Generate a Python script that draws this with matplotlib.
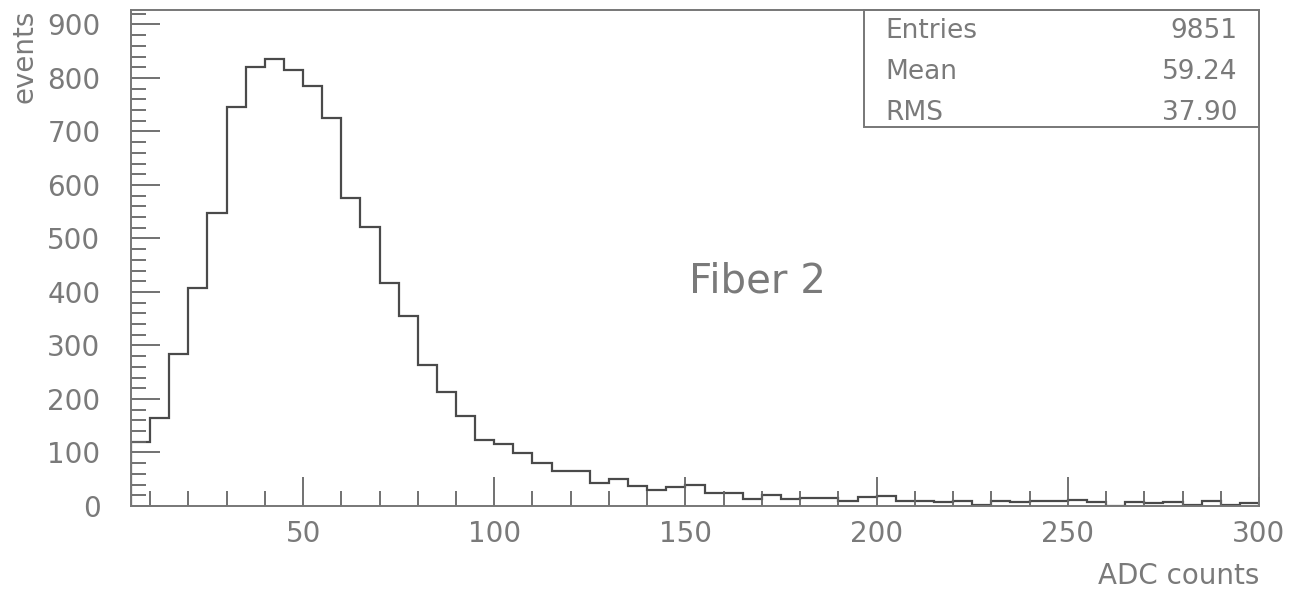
import numpy as np
import matplotlib
matplotlib.use("Agg")
import matplotlib.pyplot as plt
from matplotlib.ticker import MultipleLocator
from matplotlib.patches import Rectangle

# histogram contents, 5-count wide bins starting at 5
bin_start = 5
bin_width = 5
counts = [119, 165, 285, 408, 548, 746, 821, 835, 815, 785,
          726, 576, 521, 417, 355, 263, 213, 168, 124, 116,
          99, 80, 66, 66, 43, 50, 37, 30, 35, 39,
          25, 25, 14, 20, 14, 15, 15, 10, 16, 18,
          9, 9, 8, 9, 2, 9, 8, 9, 10, 11,
          7, 0, 7, 6, 7, 1, 10, 1, 5]

stat_names = ["Entries", "Mean", "RMS"]
stat_values = ["9851", "59.24", "37.90"]
title = "Fiber 2"

line_col = "#4a4a4a"
text_col = "#7a7a7a"

plt.rcParams["font.family"] = ["DejaVu Sans"]

fig = plt.figure(figsize=(13.01, 5.90), dpi=100)
ax = fig.add_axes([131 / 1301, 1 - 506 / 590, 1128 / 1301, 496 / 590])

edges = bin_start + bin_width * np.arange(len(counts) + 1)
ax.stairs(counts, edges, color=line_col, linewidth=1.6, baseline=0)

ax.set_xlim(5, 300)
ax.set_ylim(0, 927)

ax.xaxis.set_major_locator(MultipleLocator(50))
ax.xaxis.set_minor_locator(MultipleLocator(10))
ax.yaxis.set_major_locator(MultipleLocator(100))
ax.yaxis.set_minor_locator(MultipleLocator(20))

ax.tick_params(which="both", direction="in", color="#666666", width=1.3,
               labelcolor=text_col, labelsize=20, top=False, right=False)
ax.tick_params(which="major", length=21)
ax.tick_params(which="minor", length=11)
ax.tick_params(axis="x", pad=10)
ax.tick_params(axis="y", pad=22)

for s in ax.spines.values():
    s.set_color("#777777")
    s.set_linewidth(1.4)

ax.set_xlabel("ADC counts", fontsize=20, color=text_col, loc="right", labelpad=10)
ax.set_ylabel("events", fontsize=20, color=text_col, loc="top", labelpad=6)

# stats box in the upper right corner
ax.add_patch(Rectangle((0.65, 0.764), 0.35, 0.236, transform=ax.transAxes,
                       fill=False, edgecolor="#777777", linewidth=1.4, clip_on=False))
for i, (name, val) in enumerate(zip(stat_names, stat_values)):
    y = 0.958 - i * 0.083
    ax.text(0.669, y, name, transform=ax.transAxes, fontsize=19,
            color=text_col, ha="left", va="center")
    ax.text(0.981, y, val, transform=ax.transAxes, fontsize=19,
            color=text_col, ha="right", va="center")

ax.text(0.555, 0.452, title, transform=ax.transAxes, fontsize=29,
        color=text_col, ha="center", va="center")

fig.savefig("out.png", dpi=100)
